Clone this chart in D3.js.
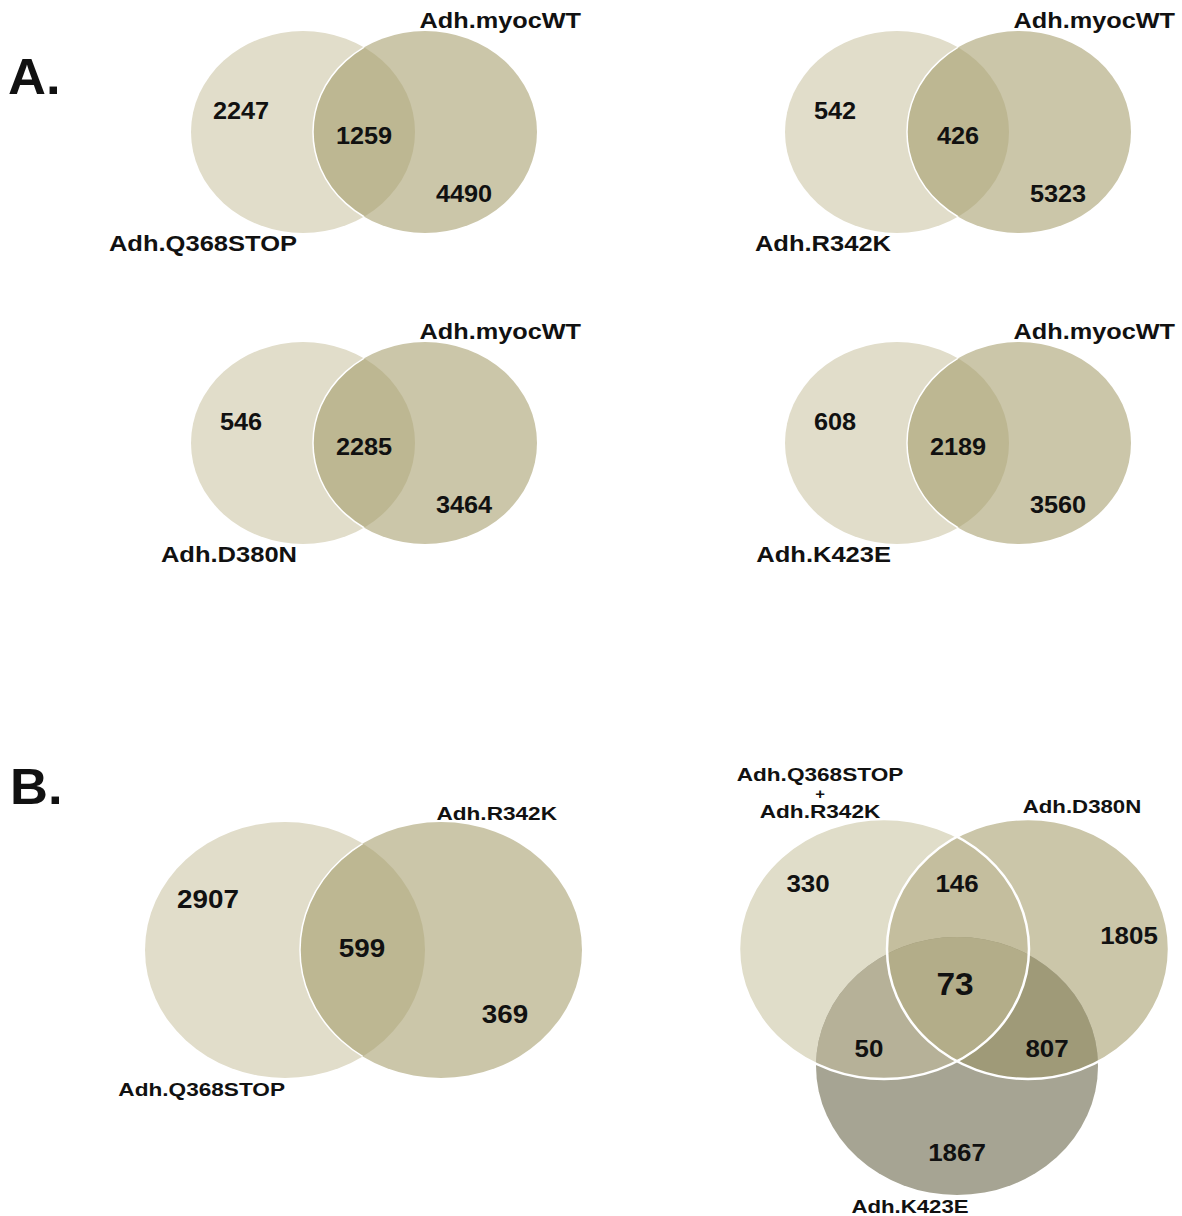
<!doctype html>
<html>
<head>
<meta charset="utf-8">
<title>Venn diagrams</title>
<script src="https://cdnjs.cloudflare.com/ajax/libs/d3/7.8.5/d3.min.js"></script>
<style>
  body { margin: 0; background: #fff; }
  text { font-family: "Liberation Sans", Arial, sans-serif; font-weight: bold; fill: #111; }
</style>
</head>
<body>
<svg id="chart" width="1182" height="1216"></svg>
<script>
// ---- data ----
var pairMutants = ["Adh.Q368STOP", "Adh.R342K", "Adh.D380N", "Adh.K423E"];
var pairReference = "Adh.myocWT";
var pairOnlyMutant = [2247, 542, 546, 608];
var pairShared = [1259, 426, 2285, 2189];
var pairOnlyWT = [4490, 5323, 3464, 3560];

var twoSets = ["Adh.Q368STOP", "Adh.R342K"];
var twoCounts = [2907, 599, 369];          // left only, shared, right only

var threeSets = ["Adh.Q368STOP\n+\nAdh.R342K", "Adh.D380N", "Adh.K423E"];
var threeRegions = ["A", "AB", "B", "ABC", "AC", "BC", "C"];
var threeCounts = [330, 146, 1805, 73, 50, 807, 1867];

// ---- colours ----
var colLight = "#e1ddca", colMid = "#cbc6a9", colBoth = "#bdb792";
var col3 = { A: "#e0ddc9", B: "#cbc6a9", C: "#a6a493", AB: "#c4be9e", AC: "#b6b198", BC: "#9f9a78", ABC: "#b3ad89" };

var svg = d3.select("#chart");
var defs = svg.append("defs");
var clipId = 0;

function addClip(e) {
  var id = "clip" + (clipId++);
  defs.append("clipPath").attr("id", id).append("ellipse")
    .attr("cx", e.cx).attr("cy", e.cy).attr("rx", e.rx).attr("ry", e.ry);
  return "url(#" + id + ")";
}
function ell(g, e) {
  return g.append("ellipse").attr("cx", e.cx).attr("cy", e.cy).attr("rx", e.rx).attr("ry", e.ry);
}
// the original figure is a bit stretched sideways, so text is widened too
function label(g, x, y, str, size, anchor, sx) {
  return g.append("text")
    .attr("transform", "translate(" + x + "," + y + ") scale(" + (sx || 1.15) + ",1)")
    .attr("text-anchor", anchor || "middle")
    .style("font-size", size + "px")
    .text(str);
}

// panel letters
label(svg, 8, 94, "A.", 50, "start", 1.05);
label(svg, 10, 804, "B.", 50, "start", 1.05);

// ---- panel A: four two-set diagrams ----
var panelPos = [[303, 132], [897, 132], [303, 443], [897, 443]];

pairMutants.forEach(function(name, i) {
  var x = d3.scaleLinear().domain([0, 1]).range([panelPos[i][0], panelPos[i][0] + 1]);
  var y = d3.scaleLinear().domain([0, 1]).range([panelPos[i][1], panelPos[i][1] + 1]);
  var L = { cx: x(0), cy: y(0), rx: 112, ry: 101 };
  var R = { cx: x(122), cy: y(0), rx: 112, ry: 101 };
  var g = svg.append("g");
  ell(g, L).attr("fill", colLight);
  ell(g, R).attr("fill", colMid);
  ell(g, R).attr("fill", colBoth).attr("clip-path", addClip(L));
  ell(g, R).attr("fill", "none").attr("stroke", "#fff").attr("stroke-width", 1.5).attr("clip-path", addClip(L));

  var nums = [[pairOnlyMutant[i], -62, -13], [pairShared[i], 61, 12], [pairOnlyWT[i], 161, 70]];
  nums.forEach(function(n) {
    label(g, x(n[1]), y(n[2]), n[0], 23, "middle", 1.1);
  });
  label(g, x(278), y(-104), pairReference, 22, "end", 1.15);
  label(g, x(-6), y(119), name, 22, "end", 1.16);
});

// ---- panel B left: two-set diagram ----
(function() {
  var x = d3.scaleLinear().domain([0, 1]).range([285, 286]);
  var y = d3.scaleLinear().domain([0, 1]).range([950, 951]);
  var L = { cx: x(0), cy: y(0), rx: 140, ry: 128 };
  var R = { cx: x(156), cy: y(0), rx: 141, ry: 128 };
  var g = svg.append("g");
  ell(g, L).attr("fill", colLight);
  ell(g, R).attr("fill", colMid);
  ell(g, R).attr("fill", colBoth).attr("clip-path", addClip(L));
  ell(g, R).attr("fill", "none").attr("stroke", "#fff").attr("stroke-width", 1.5).attr("clip-path", addClip(L));

  var offs = [[-77, -42], [77, 7], [220, 73]];
  twoCounts.forEach(function(c, k) {
    label(g, x(offs[k][0]), y(offs[k][1]), c, 26, "middle", 1.07);
  });
  label(g, x(0), y(146), twoSets[0], 19, "end", 1.19);
  label(g, x(272), y(-130), twoSets[1], 19, "end", 1.19);
})();

// ---- panel B right: three-set diagram ----
(function() {
  var x = d3.scaleLinear().domain([0, 1]).range([884, 885]);
  var y = d3.scaleLinear().domain([0, 1]).range([949, 950]);
  var A = { cx: x(0), cy: y(0), rx: 145, ry: 130 };
  var B = { cx: x(144), cy: y(0), rx: 141, ry: 130 };
  var C = { cx: x(73), cy: y(117), rx: 141, ry: 129 };
  var g = svg.append("g");
  ell(g, A).attr("fill", col3.A);
  ell(g, B).attr("fill", col3.B);
  ell(g, C).attr("fill", col3.C);
  ell(g, B).attr("fill", col3.AB).attr("clip-path", addClip(A));
  ell(g, C).attr("fill", col3.AC).attr("clip-path", addClip(A));
  ell(g, C).attr("fill", col3.BC).attr("clip-path", addClip(B));
  g.append("g").attr("clip-path", addClip(B))
    .append("ellipse").attr("cx", C.cx).attr("cy", C.cy).attr("rx", C.rx).attr("ry", C.ry)
    .attr("fill", col3.ABC).attr("clip-path", addClip(A));
  ell(g, A).attr("fill", "none").attr("stroke", "#fff").attr("stroke-width", 2.5);
  ell(g, B).attr("fill", "none").attr("stroke", "#fff").attr("stroke-width", 2.5);

  var spots = { A: [-76, -57], AB: [73, -57], B: [245, -5], ABC: [71, 46], AC: [-15, 108], BC: [163, 108], C: [73, 212] };
  threeRegions.forEach(function(r, k) {
    var p = spots[r];
    label(g, x(p[0]), y(p[1]), threeCounts[k], r === "ABC" ? 31 : 24, "middle", 1.08);
  });

  var topLines = threeSets[0].split("\n");
  var ty = [-168, -150, -131], ts = [19, 14, 19];
  topLines.forEach(function(t, k) {
    label(g, x(-64), y(ty[k]), t, ts[k], "middle", 1.19);
  });
  label(g, x(198), y(-136), threeSets[1], 19, "middle", 1.17);
  label(g, x(26), y(264), threeSets[2], 19, "middle", 1.17);
})();
</script>
</body>
</html>
